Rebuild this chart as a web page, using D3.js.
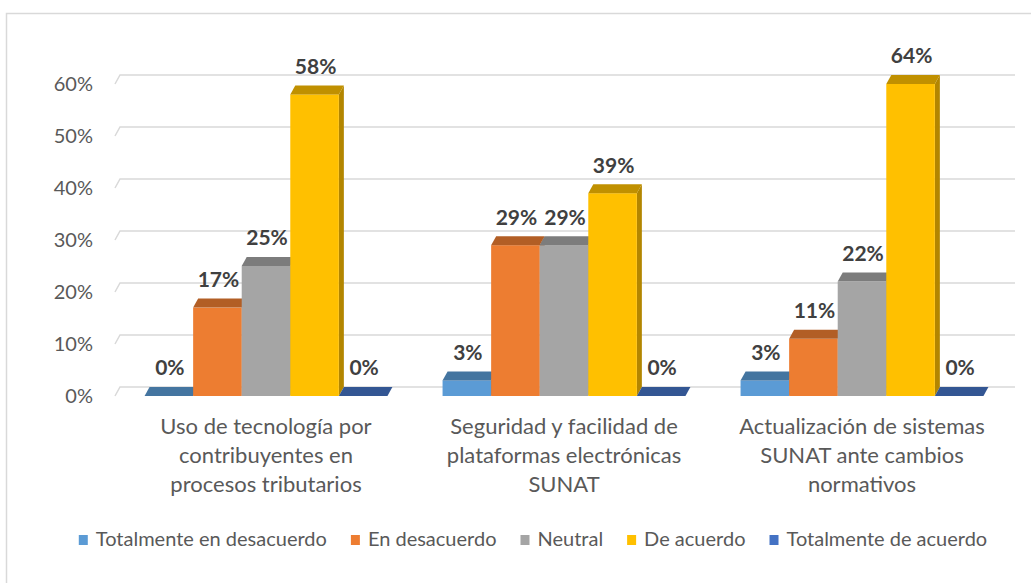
<!DOCTYPE html>
<html>
<head>
<meta charset="utf-8">
<script src="https://d3js.org/d3.v7.min.js"></script>
<style>
  body { margin: 0; background: #fff; }
  text { font-family: Lato, "Open Sans", sans-serif; }
</style>
</head>
<body>
<svg width="1031" height="583"></svg>
<script>
// data
const categories = [
    ["Uso de tecnología por", "contribuyentes en", "procesos tributarios"],
    ["Seguridad y facilidad de", "plataformas electrónicas", "SUNAT"],
    ["Actualización de sistemas", "SUNAT ante cambios", "normativos"]
];
const seriesNames = ["Totalmente en desacuerdo", "En desacuerdo", "Neutral", "De acuerdo", "Totalmente de acuerdo"];
const seriesColors = ["#5B9BD5", "#ED7D31", "#A5A5A5", "#FFC000", "#4472C4"];
const usoTecnologia = [0, 0.17, 0.25, 0.58, 0];
const seguridadPlataformas = [0.03, 0.29, 0.29, 0.39, 0];
const actualizacionSistemas = [0.03, 0.11, 0.22, 0.64, 0];
const yTicks = [0, 0.1, 0.2, 0.3, 0.4, 0.5, 0.6];

const values = [usoTecnologia, seguridadPlataformas, actualizacionSistemas];

const svg = d3.select('svg');
const depthX = 5, depthY = -9;

// chart border
svg.append('rect')
    .attr('x', 6.5).attr('y', 13.5)
    .attr('width', 1100).attr('height', 700)
    .attr('fill', '#fff')
    .attr('stroke', '#d9d9d9')
    .attr('stroke-width', 1.5);

var x0 = d3.scaleBand()
    .domain(d3.range(categories.length))
    .range([117, 1011])
    .paddingInner(0.185)
    .paddingOuter(0.0925);

var x1 = d3.scaleBand()
    .domain(d3.range(seriesNames.length))
    .range([0, x0.bandwidth()]);

var y = d3.scaleLinear()
    .domain([0, 0.6])
    .range([396, 84])
    .clamp(true);

// back wall gridlines
var grid = svg.append('g');
yTicks.forEach(function (t) {
    grid.append('path')
        .attr('d', 'M115,' + y(t) + 'L' + (115 + depthX) + ',' + (y(t) + depthY) + 'H1015')
        .attr('fill', 'none')
        .attr('stroke', '#d9d9d9')
        .attr('stroke-width', 1.5);
});

// y axis labels
svg.append('g')
    .selectAll('text')
    .data(yTicks)
    .enter()
    .append('text')
    .attr('x', 93)
    .attr('y', function (d) { return y(d) + 2; })
    .attr('text-anchor', 'end')
    .attr('dominant-baseline', 'middle')
    .attr('fill', '#595959')
    .style('font-size', '20px')
    .text(d3.format('.0%'));

// 3d bars
var bars = svg.append('g');
values.forEach(function (vals, ci) {
    vals.forEach(function (v, si) {
        var xl = x0(ci) + x1(si);
        var w = x1.bandwidth();
        var yt = y(v), yb = y(0);
        var c = d3.color(seriesColors[si]);
        var g = bars.append('g');
        g.append('path')
            .attr('d', 'M' + (xl + w) + ',' + yt + 'L' + (xl + w + depthX) + ',' + (yt + depthY) +
                'L' + (xl + w + depthX) + ',' + (yb + depthY) + 'L' + (xl + w) + ',' + yb + 'Z')
            .attr('fill', c.darker(1));
        g.append('rect')
            .attr('x', xl).attr('y', yt)
            .attr('width', w).attr('height', yb - yt)
            .attr('fill', c);
        g.append('path')
            .attr('d', 'M' + xl + ',' + yt + 'L' + (xl + depthX) + ',' + (yt + depthY) +
                'L' + (xl + w + depthX) + ',' + (yt + depthY) + 'L' + (xl + w) + ',' + yt + 'Z')
            .attr('fill', c.darker(0.8));
    });
});

// data labels
values.forEach(function (vals, ci) {
    svg.append('g')
        .selectAll('text')
        .data(vals)
        .enter()
        .append('text')
        .attr('x', function (d, i) { return x0(ci) + x1(i) + x1.bandwidth() / 2 + 1; })
        .attr('y', function (d) { return y(d) + depthY - 17; })
        .attr('text-anchor', 'middle')
        .attr('dominant-baseline', 'middle')
        .attr('fill', '#404040')
        .style('font-size', '21px')
        .style('font-weight', 'bold')
        .text(d3.format('.0%'));
});

// category labels
svg.append('g')
    .selectAll('text')
    .data(categories)
    .enter()
    .append('text')
    .attr('x', function (d, i) { return x0(i) + x0.bandwidth() / 2; })
    .attr('y', 428)
    .attr('text-anchor', 'middle')
    .attr('fill', '#595959')
    .style('font-size', '22px')
    .each(function (lines) {
        var t = d3.select(this);
        lines.forEach(function (line, k) {
            t.append('tspan')
                .attr('x', t.attr('x'))
                .attr('y', 428 + k * 29)
                .attr('dominant-baseline', 'middle')
                .text(line);
        });
    });

// legend
var legend = svg.append('g');
var cursor = 0;
seriesNames.forEach(function (name, i) {
    var item = legend.append('g').attr('transform', 'translate(' + cursor + ',0)');
    item.append('rect')
        .attr('x', 0).attr('y', -5)
        .attr('width', 9).attr('height', 10)
        .attr('fill', seriesColors[i]);
    var txt = item.append('text')
        .attr('x', 17).attr('y', 1)
        .attr('dominant-baseline', 'middle')
        .attr('fill', '#595959')
        .style('font-size', '20px')
        .text(name);
    cursor += 17 + txt.node().getComputedTextLength() + 24;
});
var legendWidth = cursor - 24;
legend.attr('transform', 'translate(' + (533 - legendWidth / 2) + ',540)');
</script>
</body>
</html>
